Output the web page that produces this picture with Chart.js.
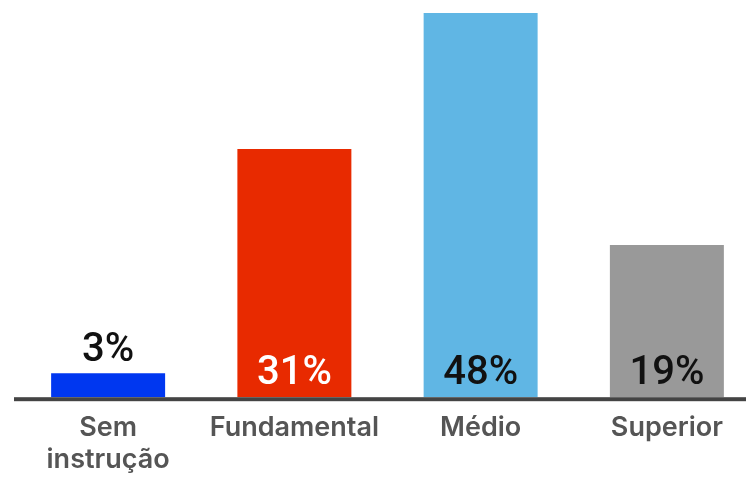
<!DOCTYPE html>
<html>
<head>
<meta charset="utf-8">
<script src="https://cdn.jsdelivr.net/npm/chart.js@4"></script>
<style>
    html, body { margin: 0; padding: 0; background: #fff; overflow: hidden; }
    #wrap { width: 760px; height: 490px; }
</style>
</head>
<body>
<div id="wrap"><canvas id="escolaridadeChart"></canvas></div>
<script>
// Dados
const categorias = [["Sem", "instrução"], "Fundamental", "Médio", "Superior"];
const valores = [3, 31, 48, 19];
const cores = ["#0037f0", "#e82a00", "#60b6e4", "#999999"];
const coresTexto = ["#111111", "#ffffff", "#111111", "#111111"];

const fonteValores = "Roboto, 'Noto Sans', sans-serif";
const fonteEixo = "Inter, 'Noto Sans', sans-serif";

// Plugin: linha do eixo + rótulos de percentagem
const rotulosPlugin = {
    id: "rotulosPlugin",
    afterDatasetsDraw(chart) {
        const ctx = chart.ctx;
        const area = chart.chartArea;

        // linha do eixo
        ctx.save();
        ctx.fillStyle = "#444444";
        ctx.fillRect(area.left - 1, area.bottom, chart.width - area.left, 4);
        ctx.restore();

        const meta = chart.getDatasetMeta(0);
        meta.data.forEach((bar, i) => {
            const altura = bar.base - bar.y;
            ctx.save();
            ctx.font = "500 40px " + fonteValores;
            ctx.textAlign = "center";
            ctx.textBaseline = "alphabetic";
            let y;
            if (altura > 60) {
                y = bar.base - 13;
                ctx.fillStyle = coresTexto[i];
            } else {
                y = bar.y - 12;
                ctx.fillStyle = "#111111";
            }
            ctx.fillText(valores[i] + "%", bar.x, y);
            ctx.restore();
        });
    }
};

new Chart(document.getElementById("escolaridadeChart").getContext("2d"), {
    type: "bar",
    data: {
        labels: categorias,
        datasets: [
            {
                data: valores,
                backgroundColor: cores,
                borderWidth: 0,
                categoryPercentage: 1,
                barPercentage: 0.612,
            },
        ],
    },
    options: {
        responsive: true,
        maintainAspectRatio: false,
        animation: false,
        layout: {
            padding: { top: 13, left: 15, right: 0, bottom: 0 },
        },
        plugins: {
            legend: { display: false },
            tooltip: { enabled: false },
        },
        scales: {
            x: {
                grid: { display: false, drawTicks: false },
                border: { display: false },
                ticks: {
                    color: "#555555",
                    font: { family: fonteEixo, size: 27, weight: "600", lineHeight: 1.2 },
                    padding: 14,
                    maxRotation: 0,
                    autoSkip: false,
                },
            },
            y: {
                display: false,
                min: 0,
                max: 48,
            },
        },
    },
    plugins: [rotulosPlugin],
});
</script>
</body>
</html>
